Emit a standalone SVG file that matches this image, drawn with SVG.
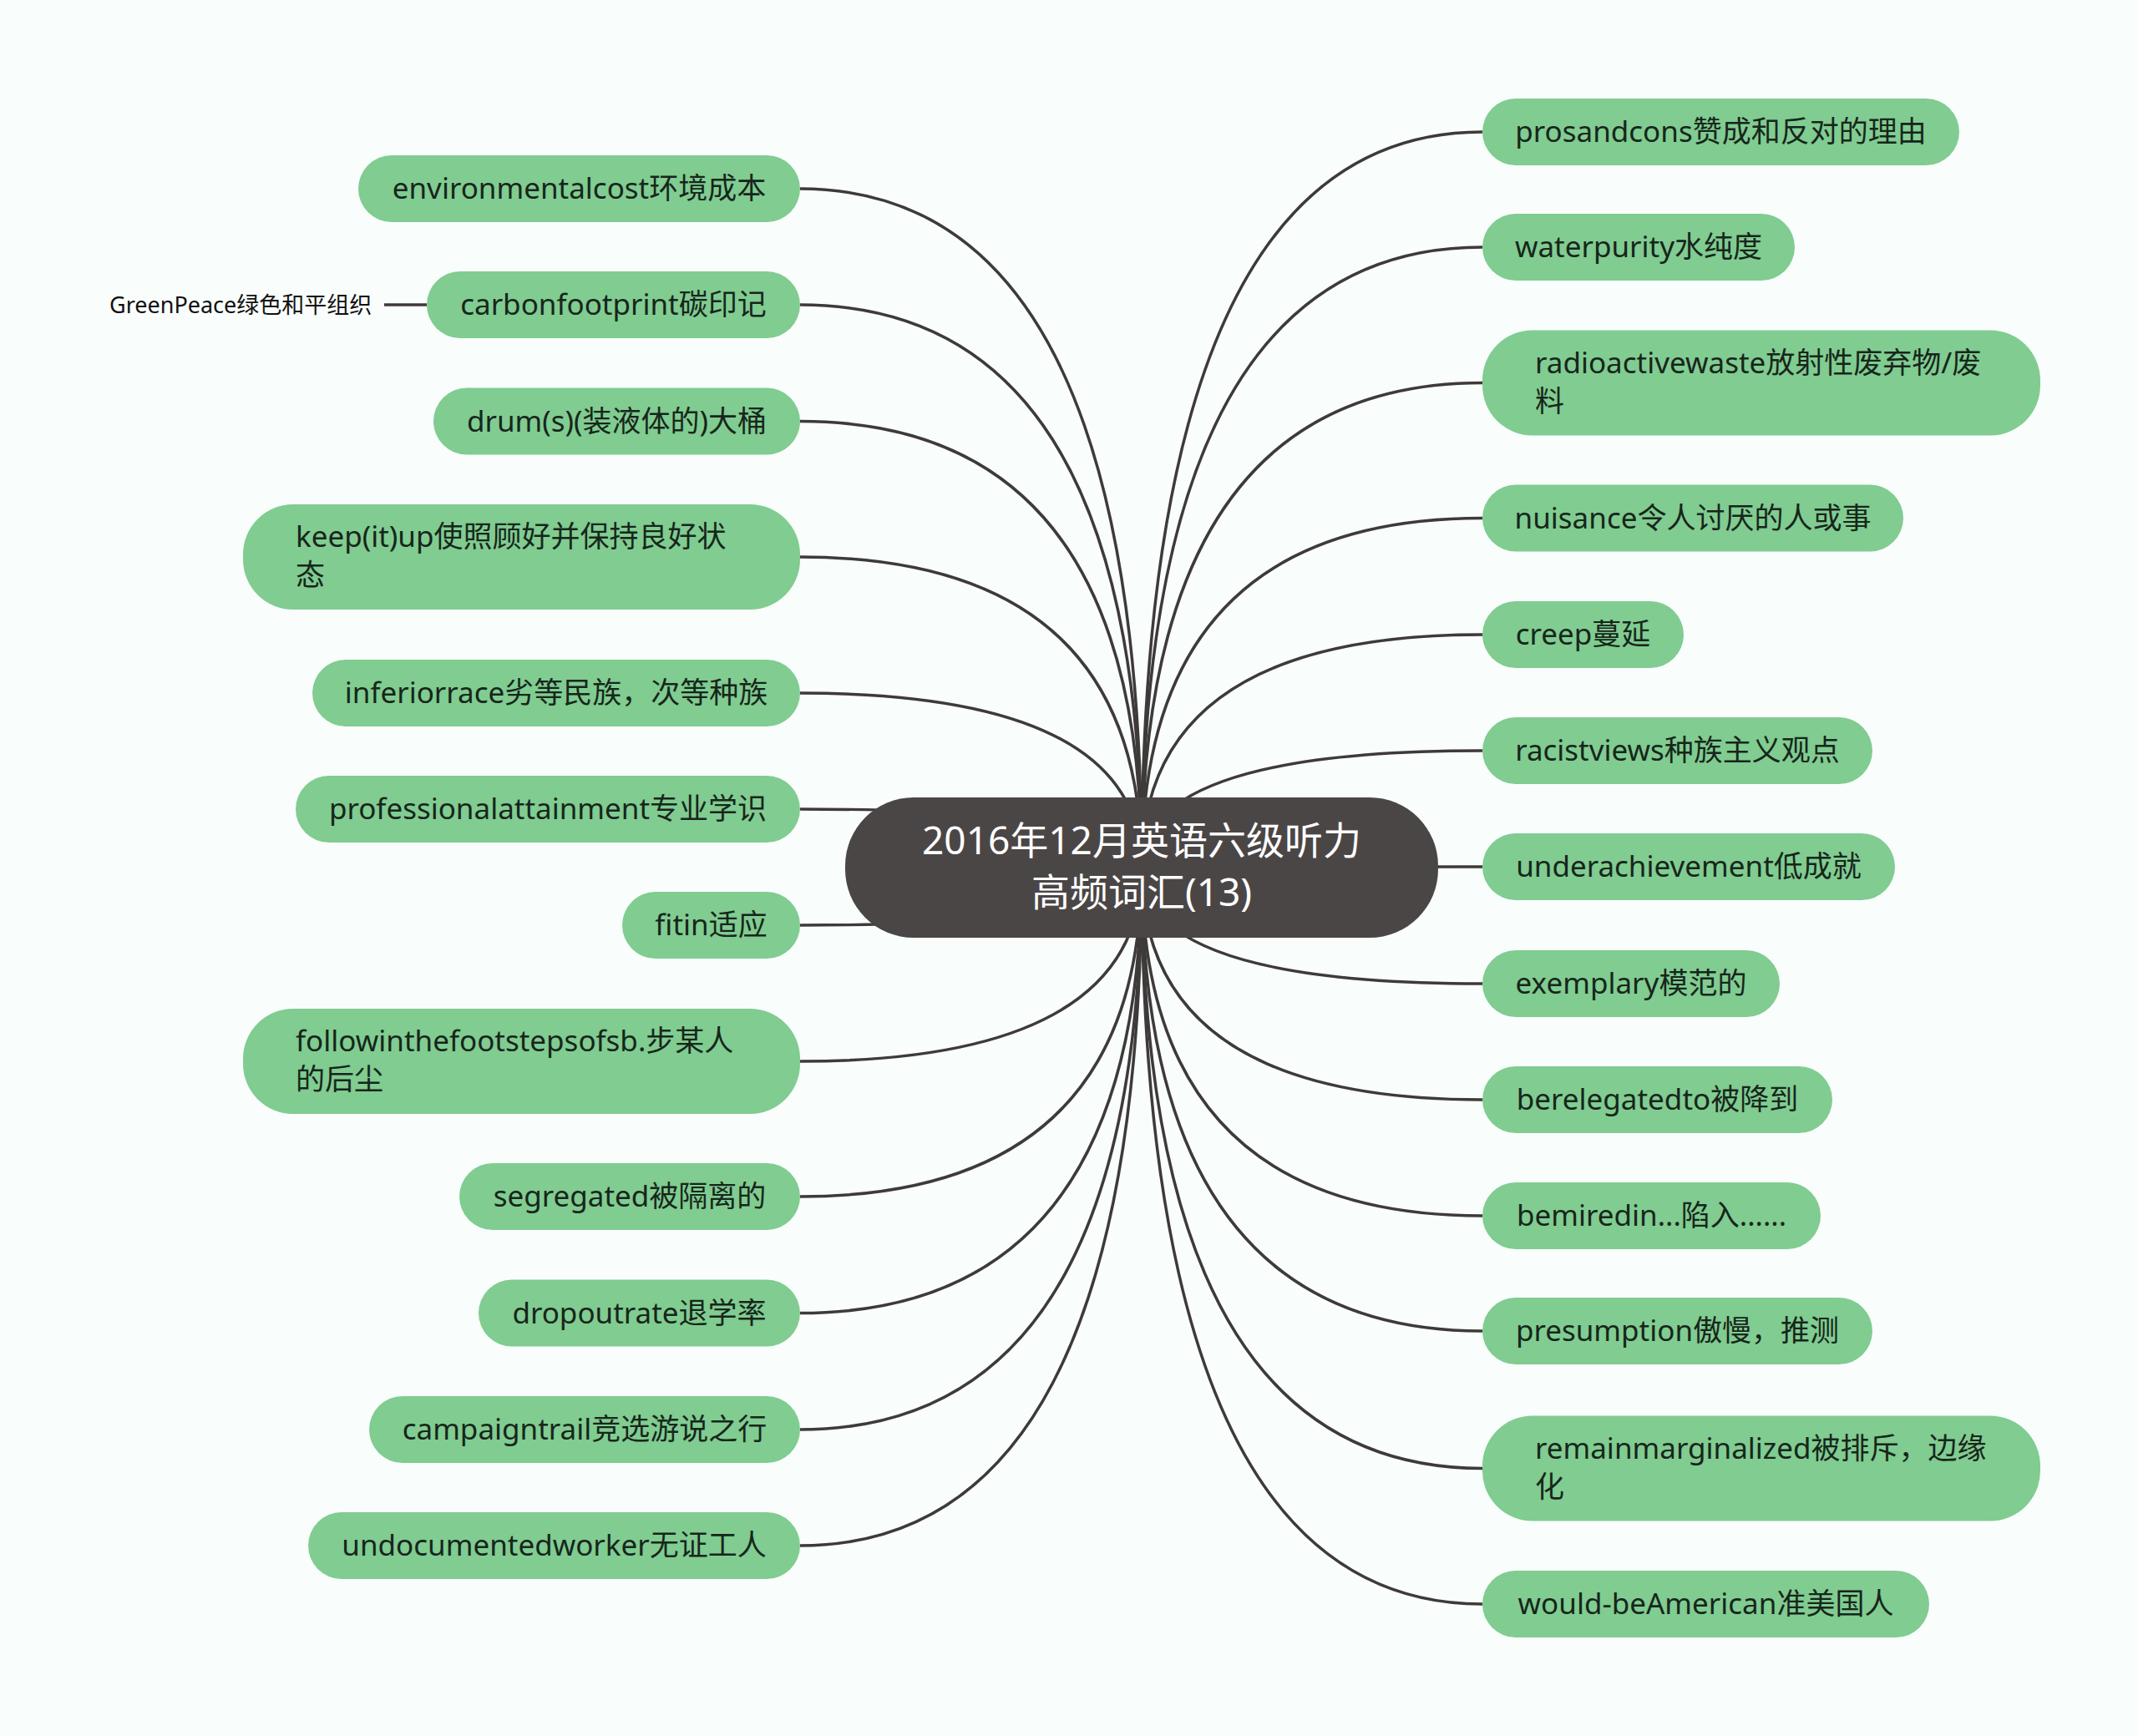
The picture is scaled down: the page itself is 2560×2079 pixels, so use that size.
<svg xmlns="http://www.w3.org/2000/svg" width="2560" height="2079" viewBox="0 0 2560 2079">
<style>
.bg{fill:#f9fdfc}
.c{fill:none;stroke:#3f3a3a;stroke-width:3.5}
.n{fill:#80cc91}
.t{font-family:"Noto Sans","Noto Sans CJK SC",sans-serif;font-size:35px;fill:#17261b}
.m{text-anchor:middle}
.root{fill:#4b4646}
.rt{font-family:"Noto Sans","Noto Sans CJK SC",sans-serif;font-size:46px;fill:#ffffff;text-anchor:middle}
.sub{font-family:"Noto Sans","Noto Sans CJK SC",sans-serif;font-size:27px;fill:#111111}
</style>
<rect class="bg" x="0" y="0" width="2560" height="2079"/>
<g id="connectors">
<path class="c" d="M958 226 Q1367 226 1367 1039"/>
<path class="c" d="M958 365 Q1367 365 1367 1039"/>
<path class="c" d="M958 504.5 Q1367 504.5 1367 1039"/>
<path class="c" d="M958 667 Q1367 667 1367 1039"/>
<path class="c" d="M958 830 Q1367 830 1367 1039"/>
<path class="c" d="M958 969 Q1367 969 1367 1039"/>
<path class="c" d="M958 1108 Q1367 1108 1367 1039"/>
<path class="c" d="M958 1271 Q1367 1271 1367 1039"/>
<path class="c" d="M958 1433 Q1367 1433 1367 1039"/>
<path class="c" d="M958 1572.5 Q1367 1572.5 1367 1039"/>
<path class="c" d="M958 1712 Q1367 1712 1367 1039"/>
<path class="c" d="M958 1851 Q1367 1851 1367 1039"/>
<path class="c" d="M1775 158 Q1367 158 1367 1039"/>
<path class="c" d="M1775 296 Q1367 296 1367 1039"/>
<path class="c" d="M1775 458.5 Q1367 458.5 1367 1039"/>
<path class="c" d="M1775 620.5 Q1367 620.5 1367 1039"/>
<path class="c" d="M1775 760 Q1367 760 1367 1039"/>
<path class="c" d="M1775 899 Q1367 899 1367 1039"/>
<path class="c" d="M1775 1038 Q1367 1038 1367 1039"/>
<path class="c" d="M1775 1178 Q1367 1178 1367 1039"/>
<path class="c" d="M1775 1317 Q1367 1317 1367 1039"/>
<path class="c" d="M1775 1456 Q1367 1456 1367 1039"/>
<path class="c" d="M1775 1594 Q1367 1594 1367 1039"/>
<path class="c" d="M1775 1758.5 Q1367 1758.5 1367 1039"/>
<path class="c" d="M1775 1921 Q1367 1921 1367 1039"/>
<path class="c" d="M460 365 L511 365"/>
</g>
<g id="root">
<rect class="root" x="1012" y="955" width="710" height="168" rx="82"/>
<text class="rt" x="1367" y="1023">2016年12月英语六级听力</text>
<text class="rt" x="1367" y="1085">高频词汇(13)</text>
</g>
<g id="l1"><rect class="n" x="429" y="186" width="529" height="80" rx="40"/><text class="t m" x="693.5" y="238">environmentalcost环境成本</text></g>
<g id="l2"><rect class="n" x="511" y="325" width="447" height="80" rx="40"/><text class="t m" x="734.5" y="377">carbonfootprint碳印记</text></g>
<g id="l2a"><text class="sub" x="131" y="375">GreenPeace绿色和平组织</text></g>
<g id="l3"><rect class="n" x="519" y="464.5" width="439" height="80" rx="40"/><text class="t m" x="738.5" y="516.5">drum(s)(装液体的)大桶</text></g>
<g id="l4"><rect class="n" x="291" y="604" width="667" height="126" rx="60"/><text class="t" x="354" y="655">keep(it)up使照顾好并保持良好状</text><text class="t" x="354" y="701">态</text></g>
<g id="l5"><rect class="n" x="374" y="790" width="584" height="80" rx="40"/><text class="t m" x="666" y="842">inferiorrace劣等民族，次等种族</text></g>
<g id="l6"><rect class="n" x="354" y="929" width="604" height="80" rx="40"/><text class="t m" x="656" y="981">professionalattainment专业学识</text></g>
<g id="l7"><rect class="n" x="745" y="1068" width="213" height="80" rx="40"/><text class="t m" x="851.5" y="1120">fitin适应</text></g>
<g id="l8"><rect class="n" x="291" y="1208" width="667" height="126" rx="60"/><text class="t" x="354" y="1259">followinthefootstepsofsb.步某人</text><text class="t" x="354" y="1305">的后尘</text></g>
<g id="l9"><rect class="n" x="550" y="1393" width="408" height="80" rx="40"/><text class="t m" x="754" y="1445">segregated被隔离的</text></g>
<g id="l10"><rect class="n" x="573" y="1532.5" width="385" height="80" rx="40"/><text class="t m" x="765.5" y="1584.5">dropoutrate退学率</text></g>
<g id="l11"><rect class="n" x="442" y="1672" width="516" height="80" rx="40"/><text class="t m" x="700" y="1724">campaigntrail竞选游说之行</text></g>
<g id="l12"><rect class="n" x="369" y="1811" width="589" height="80" rx="40"/><text class="t m" x="663.5" y="1863">undocumentedworker无证工人</text></g>
<g id="r1"><rect class="n" x="1775" y="118" width="571" height="80" rx="40"/><text class="t m" x="2060.5" y="170">prosandcons赞成和反对的理由</text></g>
<g id="r2"><rect class="n" x="1775" y="256" width="374" height="80" rx="40"/><text class="t m" x="1962" y="308">waterpurity水纯度</text></g>
<g id="r3"><rect class="n" x="1775" y="395.5" width="668" height="126" rx="60"/><text class="t" x="1838" y="446.5">radioactivewaste放射性废弃物/废</text><text class="t" x="1838" y="492.5">料</text></g>
<g id="r4"><rect class="n" x="1775" y="580.5" width="504" height="80" rx="40"/><text class="t m" x="2027" y="632.5">nuisance令人讨厌的人或事</text></g>
<g id="r5"><rect class="n" x="1775" y="720" width="241" height="80" rx="40"/><text class="t m" x="1895.5" y="772">creep蔓延</text></g>
<g id="r6"><rect class="n" x="1775" y="859" width="467" height="80" rx="40"/><text class="t m" x="2008.5" y="911">racistviews种族主义观点</text></g>
<g id="r7"><rect class="n" x="1775" y="998" width="494" height="80" rx="40"/><text class="t m" x="2022" y="1050">underachievement低成就</text></g>
<g id="r8"><rect class="n" x="1775" y="1138" width="356" height="80" rx="40"/><text class="t m" x="1953" y="1190">exemplary模范的</text></g>
<g id="r9"><rect class="n" x="1775" y="1277" width="419" height="80" rx="40"/><text class="t m" x="1984.5" y="1329">berelegatedto被降到</text></g>
<g id="r10"><rect class="n" x="1775" y="1416" width="405" height="80" rx="40"/><text class="t m" x="1977.5" y="1468">bemiredin...陷入......</text></g>
<g id="r11"><rect class="n" x="1775" y="1554" width="467" height="80" rx="40"/><text class="t m" x="2008.5" y="1606">presumption傲慢，推测</text></g>
<g id="r12"><rect class="n" x="1775" y="1695.5" width="668" height="126" rx="60"/><text class="t" x="1838" y="1746.5">remainmarginalized被排斥，边缘</text><text class="t" x="1838" y="1792.5">化</text></g>
<g id="r13"><rect class="n" x="1775" y="1881" width="535" height="80" rx="40"/><text class="t m" x="2042.5" y="1933">would-beAmerican准美国人</text></g>
</svg>
